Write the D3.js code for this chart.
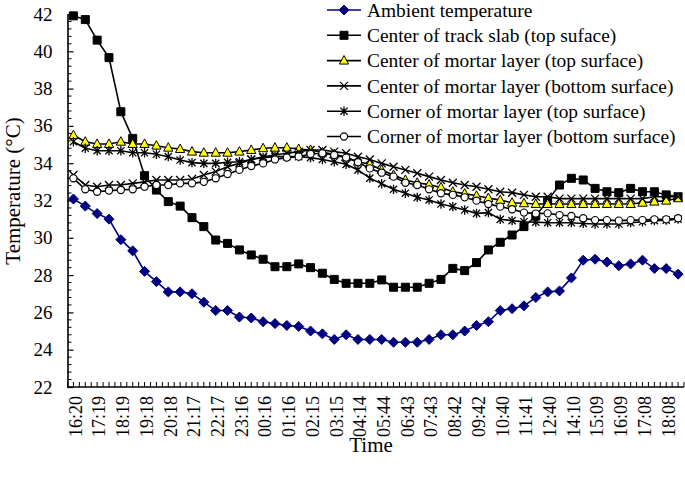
<!DOCTYPE html>
<html><head><meta charset="utf-8">
<script src="https://cdn.jsdelivr.net/npm/d3@7"></script>
<style>
body{margin:0;background:#fff}
svg{display:block}
text{font-family:"Liberation Serif","Times New Roman",serif;fill:#000}
</style>
</head><body>
<svg id="c" width="685" height="479"></svg>
<script>
// ---------------- data ----------------
const timeLabels = ["16:20","17:19","18:19","19:18","20:18","21:17","22:17","23:16","00:16","01:16","02:15","03:15","04:14","05:44","06:43","07:43","08:42","09:42","10:40","11:41","12:40","14:10","15:09","16:09","17:08","18:08"];

const seriesNames = [
  "Ambient temperature",
  "Center of track slab (top suface)",
  "Center of mortar layer (top surface)",
  "Center of mortar layer (bottom surface)",
  "Corner of mortar layer (top surface)",
  "Corner of mortar layer (bottom surface)"
];

const ambient = [32.08,31.7,31.3,31.0,29.9,29.3,28.2,27.65,27.1,27.1,27.0,26.55,26.1,26.1,25.75,25.7,25.5,25.4,25.3,25.25,25.0,24.85,24.55,24.8,24.55,24.55,
  24.55,24.4,24.4,24.4,24.55,24.8,24.8,25.0,25.3,25.5,26.1,26.2,26.35,26.8,27.1,27.15,27.85,28.8,28.85,28.7,28.5,28.6,28.8,28.35,28.35,28.05];

const slabTop = [41.9,41.7,40.6,39.66,36.76,35.33,33.33,32.56,31.94,31.7,31.08,30.6,29.88,29.7,29.35,29.08,28.85,28.45,28.45,28.6,28.4,28.1,27.77,27.56,27.56,27.56,
  27.74,27.35,27.35,27.35,27.56,27.77,28.36,28.24,28.67,29.35,29.76,30.15,30.6,31.17,32.0,32.83,33.19,33.1,32.65,32.47,32.42,32.65,32.47,32.47,32.3,32.2];

const mortarCenterTop = [35.5,35.15,35.03,35.03,35.15,35.03,35.03,34.94,34.83,34.76,34.62,34.56,34.56,34.56,34.62,34.71,34.8,34.83,34.83,34.76,34.71,34.58,34.48,34.32,34.08,33.94,
  33.64,33.37,33.1,32.95,32.85,32.7,32.47,32.37,32.25,32.13,32.02,31.88,31.85,31.81,31.81,31.81,31.81,31.81,31.81,31.81,31.81,31.81,31.88,31.94,31.99,32.12];

const mortarCenterBottom = [33.37,32.83,32.74,32.83,32.83,32.92,33.0,33.1,33.1,33.1,33.15,33.37,33.55,33.81,33.99,34.2,34.35,34.44,34.53,34.62,34.71,34.71,34.62,34.53,34.35,34.2,
  33.99,33.81,33.64,33.46,33.28,33.1,32.95,32.83,32.74,32.6,32.47,32.42,32.3,32.2,32.2,32.1,32.1,32.1,32.1,32.1,32.1,32.1,32.1,32.2,32.2,32.2];

const mortarCornerTop = [35.15,34.8,34.67,34.67,34.67,34.56,34.56,34.48,34.35,34.17,34.03,33.99,33.99,34.05,34.08,34.2,34.3,34.35,34.35,34.35,34.3,34.2,34.08,33.94,33.64,33.2,
  32.9,32.6,32.39,32.17,32.03,31.81,31.67,31.49,31.31,31.35,30.99,30.92,30.86,30.84,30.81,30.81,30.81,30.77,30.74,30.74,30.74,30.81,30.86,30.92,30.95,31.0];

const mortarCornerBottom = [33.19,32.6,32.47,32.53,32.56,32.6,32.74,32.83,32.83,32.92,32.92,33.0,33.19,33.42,33.64,33.85,33.99,34.2,34.3,34.35,34.49,34.53,34.44,34.3,34.05,33.72,
  33.49,33.28,32.95,32.83,32.6,32.39,32.3,32.17,31.99,31.81,31.67,31.53,31.35,31.3,31.31,31.22,31.17,31.05,30.95,30.95,30.92,30.95,30.95,30.99,30.99,31.05];

const yMajorTicks = [22,24,26,28,30,32,34,36,38,40,42];

// ---------------- layout ----------------
const svg = d3.select("#c");
const plot = {left:67.5, right:684, top:14, bottom:387};
const FONT = "'Liberation Serif', 'Times New Roman', serif";

const idx = d3.range(ambient.length);
const x = d3.scalePoint().domain(idx).range([plot.left, plot.right]).padding(0.5);
const y = d3.scaleLinear().domain([22,42]).range([plot.bottom, plot.top]);

// custom marker shapes
const starX = {draw(ctx, s){ const r=s; ctx.moveTo(-r,-r);ctx.lineTo(r,r);ctx.moveTo(-r,r);ctx.lineTo(r,-r);} };
const starAst = {draw(ctx, s){ const r=s; ctx.moveTo(-r,-r);ctx.lineTo(r,r);ctx.moveTo(-r,r);ctx.lineTo(r,-r);ctx.moveTo(0,-r*1.3);ctx.lineTo(0,r*1.3);} };
const diamond = {draw(ctx, s){ ctx.moveTo(0,-s);ctx.lineTo(s,0);ctx.lineTo(0,s);ctx.lineTo(-s,0);ctx.closePath();} };
const square = {draw(ctx, s){ ctx.rect(-s,-s,2*s,2*s);} };
const tri = {draw(ctx, s){ ctx.moveTo(0,-s*1.1);ctx.lineTo(s,s*0.75);ctx.lineTo(-s,s*0.75);ctx.closePath();} };
const circ = {draw(ctx, s){ ctx.moveTo(s,0);ctx.arc(0,0,s,0,2*Math.PI);} };

const series = [
  {name:seriesNames[0], data:ambient, color:"#000080", type:diamond, size:5, fill:"#000080", stroke:"#000080", sw:1},
  {name:seriesNames[1], data:slabTop, color:"#000", type:square, size:4, fill:"#000", stroke:"#000", sw:1},
  {name:seriesNames[2], data:mortarCenterTop, color:"#000", type:tri, size:4.6, fill:"#ffff00", stroke:"#000", sw:1},
  {name:seriesNames[3], data:mortarCenterBottom, color:"#000", type:starX, size:4, fill:"none", stroke:"#000", sw:1.3},
  {name:seriesNames[4], data:mortarCornerTop, color:"#000", type:starAst, size:3.6, fill:"none", stroke:"#000", sw:1.3},
  {name:seriesNames[5], data:mortarCornerBottom, color:"#000", type:circ, size:3.6, fill:"#fff", stroke:"#000", sw:1.1}
];

// ---------------- axes ----------------
const yMinor = d3.range(22, 42.0001, 0.4).filter(v => !yMajorTicks.some(m => Math.abs(m-v)<1e-6));
svg.append("g").selectAll("line").data(yMinor).join("line")
  .attr("x1", plot.left).attr("x2", plot.left+4)
  .attr("y1", d=>y(d)).attr("y2", d=>y(d))
  .attr("stroke","#000").attr("stroke-width",1);

const yAxis = d3.axisLeft(y).tickValues(yMajorTicks).tickSizeInner(-6).tickSizeOuter(0).tickPadding(15).tickFormat(d3.format("d"));
const gy = svg.append("g").attr("transform",`translate(${plot.left},0)`).call(yAxis);
gy.select(".domain").attr("stroke","#000").attr("stroke-width",1.6);
gy.selectAll(".tick line").attr("stroke","#000").attr("stroke-width",1.2);
gy.selectAll(".tick text").style("font-family",FONT).style("font-size","19px");

const step = x.step();
const xTickPos = d3.range(0, ambient.length*2+1).map(k => x(0) - step/2 + k*step/2);
svg.append("g").selectAll("line").data(xTickPos).join("line")
  .attr("x1", d=>d).attr("x2", d=>d)
  .attr("y1", plot.bottom).attr("y2", plot.bottom-5)
  .attr("stroke","#000").attr("stroke-width",1);
svg.append("line").attr("x1",plot.left).attr("x2",plot.right).attr("y1",plot.bottom).attr("y2",plot.bottom)
  .attr("stroke","#000").attr("stroke-width",1.6);

const labelIdx = timeLabels.map((t,i)=>i*2);
svg.append("g").selectAll("text").data(labelIdx).join("text")
  .attr("transform", d=>`translate(${x(d)+2},396) rotate(-90)`)
  .attr("text-anchor","end").attr("dy","0.35em")
  .style("font-family",FONT).style("font-size","18px")
  .text((d,i)=>timeLabels[i]);

svg.append("text").attr("transform","translate(13,191) rotate(-90)")
  .attr("text-anchor","middle").attr("dy","0.35em")
  .style("font-family",FONT).style("font-size","21px").text("Temperature (°C)");
svg.append("text").attr("x",371).attr("y",452)
  .attr("text-anchor","middle").style("font-family",FONT).style("font-size","21px").text("Time");

// ---------------- series ----------------
const line = d3.line().x((d,i)=>x(i)).y(d=>y(d));
series.forEach(s => {
  const g = svg.append("g");
  g.append("path").datum(s.data).attr("d", line).attr("fill","none")
    .attr("stroke", s.color).attr("stroke-width",1.6);
  g.selectAll("path.m").data(s.data).join("path").attr("class","m")
    .attr("transform",(d,i)=>`translate(${x(i)},${y(d)})`)
    .attr("d", d3.symbol().type(s.type).size(s.size))
    .attr("fill", s.fill).attr("stroke", s.stroke).attr("stroke-width", s.sw);
});

// ---------------- legend ----------------
const leg = svg.append("g");
series.forEach((s,i) => {
  const yy = 10 + i*25.3;
  leg.append("line").attr("x1",327).attr("x2",361).attr("y1",yy).attr("y2",yy)
    .attr("stroke",s.color).attr("stroke-width",1.6);
  leg.append("path").attr("transform",`translate(344,${yy})`)
    .attr("d", d3.symbol().type(s.type).size(s.size))
    .attr("fill", s.fill).attr("stroke", s.stroke).attr("stroke-width", s.sw);
  leg.append("text").attr("x",367).attr("y",yy).attr("dy","0.35em")
    .style("font-family",FONT).style("font-size","19.4px").text(s.name);
});
</script>
</body></html>
